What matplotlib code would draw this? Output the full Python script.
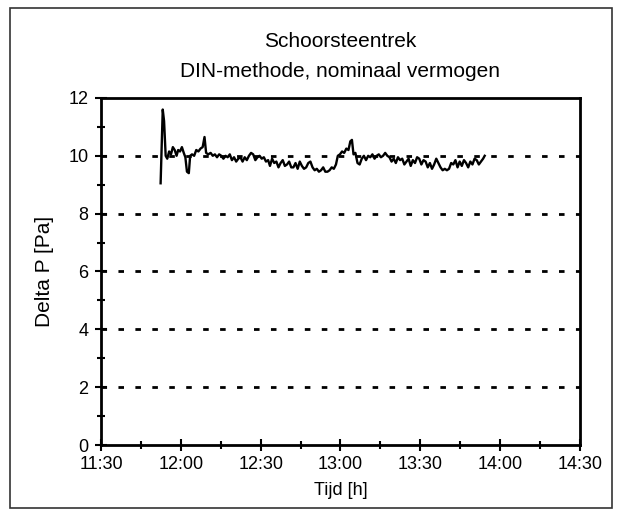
import matplotlib
matplotlib.use("Agg")
import matplotlib.pyplot as plt
from matplotlib.ticker import MultipleLocator, FixedLocator
from matplotlib.patches import Rectangle

plt.rcParams["font.family"] = ["Liberation Sans", "DejaVu Sans"]

# ── data: minutes after 11:30 and measured draught [Pa] ──
minutes = [
    22.4, 23.2, 23.7, 24.3, 24.9, 25.6, 26.3, 27.0, 27.7, 28.4,
    29.0, 29.7, 30.4, 31.1, 31.7, 32.3, 33.0, 33.5, 34.2, 35.0,
    35.8, 36.6, 37.4, 38.2, 38.9, 39.5, 40.3, 41.2, 42.0, 42.8,
    43.6, 44.4, 45.2, 46.0, 46.8, 47.6, 48.4, 49.2, 50.0, 50.8,
    51.6, 52.4, 53.2, 54.0, 54.8, 55.6, 56.4, 57.2, 58.0, 58.8,
    59.6, 60.4, 61.2, 62.0, 62.8, 63.5, 64.3, 65.1, 65.9, 66.7,
    67.5, 68.3, 69.1, 69.9, 70.7, 71.5, 72.3, 73.1, 73.9, 74.7,
    75.5, 76.3, 77.1, 77.9, 78.7, 79.5, 80.3, 81.1, 81.9, 82.7,
    83.5, 84.3, 85.1, 85.9, 86.7, 87.5, 88.3, 89.0, 89.8, 90.6,
    91.4, 92.2, 93.0, 93.7, 94.3, 94.9, 95.6, 96.4, 97.2, 98.0,
    98.8, 99.6, 100.4, 101.2, 102.0, 102.8, 103.6, 104.4, 105.2, 106.0,
    106.8, 107.6, 108.4, 109.2, 110.0, 110.8, 111.6, 112.4, 113.2, 114.0,
    114.8, 115.6, 116.4, 117.2, 118.0, 118.8, 119.6, 120.4, 121.2, 122.0,
    122.8, 123.6, 124.4, 125.2, 126.0, 126.8, 127.6, 128.4, 129.2, 130.0,
    130.8, 131.6, 132.4, 133.2, 134.0, 134.8, 135.6, 136.4, 137.2, 138.0,
    138.8, 139.6, 140.4, 141.2, 142.0, 142.8, 143.6, 144.2,
]
delta_p = [
    9.05, 11.6, 11.2, 10.0, 9.9, 10.15, 10.05, 10.3, 10.2, 10.0,
    10.2, 10.15, 10.3, 10.1, 9.95, 9.45, 9.4, 10.0, 10.05, 10.0,
    10.2, 10.15, 10.25, 10.3, 10.65, 10.1, 10.05, 10.1, 10.0, 10.05,
    9.95, 10.05, 10.0, 9.9, 10.0, 9.95, 10.05, 9.85, 9.95, 9.8,
    9.9, 9.95, 9.8, 9.95, 9.85, 10.0, 10.1, 10.05, 9.85, 9.95,
    10.0, 9.9, 9.95, 9.8, 9.85, 9.65, 9.9, 9.75, 9.8, 9.6,
    9.75, 9.85, 9.65, 9.7, 9.8, 9.6, 9.6, 9.75, 9.55, 9.8,
    9.65, 9.55, 9.6, 9.75, 9.8, 9.6, 9.5, 9.55, 9.45, 9.5,
    9.6, 9.45, 9.45, 9.5, 9.6, 9.55, 9.7, 10.0, 10.05, 10.15,
    10.1, 10.25, 10.2, 10.5, 10.55, 10.05, 10.1, 9.75, 9.7, 9.9,
    10.0, 9.85, 10.0, 9.95, 10.05, 9.9, 10.0, 10.05, 9.95, 10.0,
    10.1, 10.0, 9.95, 9.8, 9.9, 9.75, 9.95, 9.85, 9.9, 9.7,
    9.8, 9.9, 9.65, 9.85, 9.75, 9.95, 9.9, 9.7, 9.85, 9.8,
    9.6, 9.75, 9.55, 9.7, 9.9, 9.75, 9.6, 9.5, 9.55, 9.5,
    9.55, 9.75, 9.7, 9.85, 9.6, 9.8, 9.65, 9.85, 9.75, 9.6,
    9.8, 9.7, 9.9, 9.85, 9.7, 9.8, 9.9, 10.0,
]

tick_minutes = [0, 30, 60, 90, 120, 150, 180]
tick_labels = ["11:30", "12:00", "12:30", "13:00", "13:30", "14:00", "14:30"]
grid_levels = [2, 4, 6, 8, 10]

fig = plt.figure(figsize=(6.22, 5.18), dpi=100)
fig.patches.append(Rectangle((0.016, 0.019), 0.968, 0.966, transform=fig.transFigure,
                             fill=False, edgecolor="#333333", linewidth=1.2))
ax = fig.add_axes([0.1624, 0.1409, 0.770, 0.670])

# dotted reference lines
for lvl in grid_levels:
    ax.axhline(lvl, color="black", linewidth=2.0, dashes=(2.0, 4.1), zorder=1)

ax.plot(minutes, delta_p, color="black", linewidth=1.7, zorder=2)

ax.set_xlim(0, 180)
ax.set_ylim(0, 12)
ax.xaxis.set_major_locator(FixedLocator(tick_minutes))
ax.set_xticklabels(tick_labels)
ax.xaxis.set_minor_locator(MultipleLocator(15))
ax.yaxis.set_major_locator(MultipleLocator(2))
ax.yaxis.set_minor_locator(MultipleLocator(1))
ax.tick_params(which="both", direction="inout", width=1.5, labelsize=13, color="black")
ax.tick_params(which="major", length=8)
ax.tick_params(which="minor", length=6)
ax.tick_params(axis="x", pad=4)
ax.tick_params(axis="y", pad=5)
for sp in ax.spines.values():
    sp.set_linewidth(2.0)

ax.set_xlabel("Tijd [h]", fontsize=13, va="center")
ax.xaxis.set_label_coords(0.5, -0.130)
ax.set_ylabel("Delta P [Pa]", fontsize=15, va="center")
ax.yaxis.set_label_coords(-0.119, 0.5)
fig.text(0.547, 0.919, "Schoorsteentrek", ha="center", va="center", fontsize=15)
fig.text(0.547, 0.862, "DIN-methode, nominaal vermogen", ha="center", va="center", fontsize=15)

fig.savefig("out.png", dpi=100)
